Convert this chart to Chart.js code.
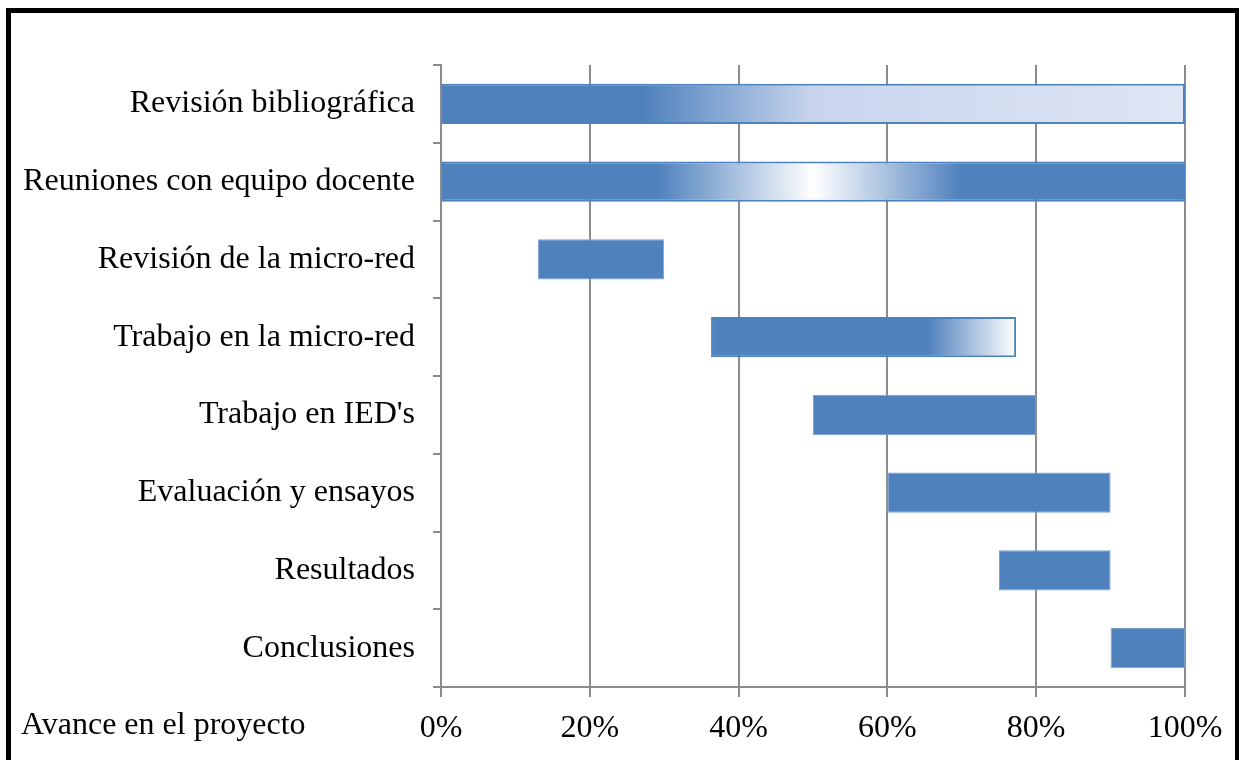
<!DOCTYPE html>
<html>
<head>
<meta charset="utf-8">
<script src="https://cdn.jsdelivr.net/npm/chart.js@4/dist/chart.umd.min.js"></script>
<style>
  html, body { margin: 0; padding: 0; background: #ffffff; }
  #c { display: block; }
</style>
</head>
<body>
<canvas id="c" width="1239" height="760"></canvas>
<script>
const categories = [
  'Revisión bibliográfica',
  'Reuniones con equipo docente',
  'Revisión de la micro-red',
  'Trabajo en la micro-red',
  "Trabajo en IED's",
  'Evaluación y ensayos',
  'Resultados',
  'Conclusiones'
];
const startValues = [0, 0, 13, 36.3, 50, 60, 75, 90];
const endValues   = [100, 100, 30, 77.3, 80, 90, 90, 100];
const tickLabels  = ['0%', '20%', '40%', '60%', '80%', '100%'];
const axisCaption = 'Avance en el proyecto';

const SOLID = '#4f81bd';
const FONT = { family: '"Liberation Serif", "Times New Roman", serif', size: 32 };
const gradientStops = {
  0: [[0, SOLID], [0.27, SOLID], [0.5, '#c8d5ed'], [1, '#dfe6f4']],
  1: [[0, SOLID], [0.29, SOLID], [0.5, '#ffffff'], [0.7, SOLID], [1, SOLID]],
  3: [[0, SOLID], [0.71, SOLID], [1, '#ffffff']]
};

const framePlugin = {
  id: 'frame',
  afterDraw(chart) {
    const ctx = chart.ctx;
    ctx.save();
    ctx.strokeStyle = '#000000';
    ctx.lineWidth = 5;
    ctx.strokeRect(8.5, 10.5, 1229, 820);
    ctx.fillStyle = '#000000';
    ctx.font = FONT.size + 'px ' + FONT.family;
    ctx.textAlign = 'left';
    ctx.textBaseline = 'middle';
    const xs = chart.scales.x;
    const y = xs.bottom - (xs.bottom - xs.top) + 0; // placeholder
    ctx.fillText(axisCaption, 21, 726);
    ctx.restore();
  }
};

new Chart(document.getElementById('c'), {
  type: 'bar',
  data: {
    labels: categories,
    datasets: [{
      data: categories.map((_, i) => [startValues[i], endValues[i]]),
      backgroundColor: (ctx) => {
        const chart = ctx.chart;
        const i = ctx.dataIndex;
        const stops = gradientStops[i];
        if (!stops || !chart.chartArea || !chart.scales.x) return SOLID;
        const xs = chart.scales.x;
        const x0 = xs.getPixelForValue(startValues[i]);
        const x1 = xs.getPixelForValue(endValues[i]);
        const g = chart.ctx.createLinearGradient(x0, 0, x1, 0);
        stops.forEach(s => g.addColorStop(s[0], s[1]));
        return g;
      },
      borderColor: (ctx) => gradientStops[ctx.dataIndex] ? '#4f81bd' : '#7ea0d0',
      borderWidth: (ctx) => gradientStops[ctx.dataIndex] ? 2 : 1,
      borderSkipped: false,
      barPercentage: 0.52,
      categoryPercentage: 1
    }]
  },
  options: {
    indexAxis: 'y',
    responsive: false,
    animation: false,
    layout: { padding: { top: 65, right: 54, left: 0, bottom: 0 } },
    scales: {
      x: {
        min: 0, max: 100,
        ticks: {
          stepSize: 20,
          callback: (v, idx) => tickLabels[idx],
          font: FONT, color: '#000000', padding: 12, maxRotation: 0
        },
        grid: { color: '#8c8c8c', lineWidth: 2, tickLength: 10 },
        border: { color: '#8c8c8c', width: 2 },
        afterFit(s) { s.height = 73; }
      },
      y: {
        grid: { offset: true, drawOnChartArea: false, tickLength: 8, color: '#8c8c8c', lineWidth: 2 },
        border: { color: '#8c8c8c', width: 2 },
        ticks: { font: FONT, color: '#000000', padding: 18 },
        afterFit(s) { s.width = 441; }
      }
    },
    plugins: { legend: { display: false }, tooltip: { enabled: false } }
  },
  plugins: [framePlugin]
});
</script>
</body>
</html>
